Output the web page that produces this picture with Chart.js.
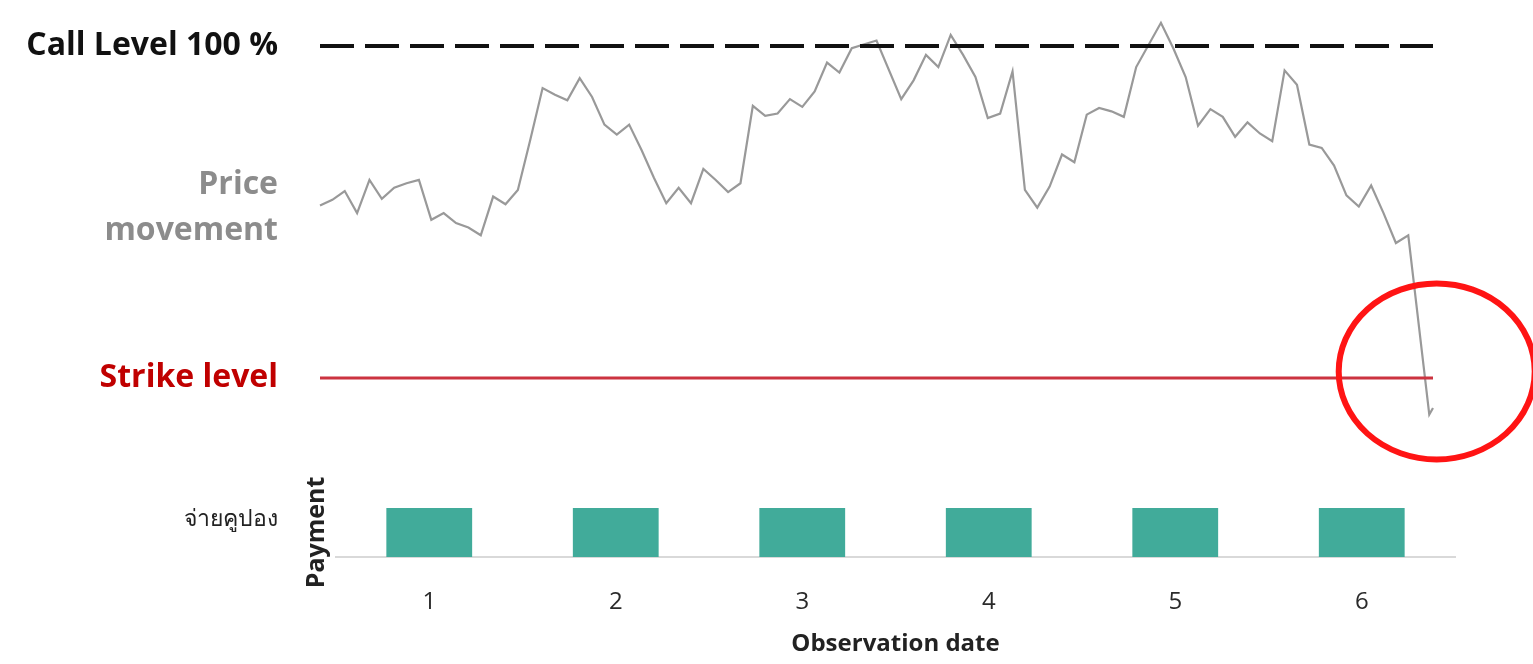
<!DOCTYPE html>
<html>
<head>
<meta charset="utf-8">
<script src="https://cdn.jsdelivr.net/npm/chart.js@4/dist/chart.umd.min.js"></script>
<style>
  body { margin: 0; background: #fff; }
  #top { position: absolute; left: 0; top: 0; width: 1533px; height: 470px; }
  #bottom { position: absolute; left: 0; top: 470px; width: 1533px; height: 194px; }
</style>
</head>
<body>
<div id="top"><canvas id="priceChart"></canvas></div>
<div id="bottom"><canvas id="couponChart"></canvas></div>
<script>
// price path (trading day, % of initial)
const priceDay = [0, 1, 2, 3, 4, 5, 6, 7, 8, 9, 10, 11, 12, 13, 14, 15, 16, 17, 18, 19,
  20, 21, 22, 23, 24, 25, 26, 27, 28, 29, 30, 31, 32, 33, 34, 35, 36, 37, 38, 39,
  40, 41, 42, 43, 45, 47, 48, 49, 50, 51, 52, 53, 54, 55, 56, 57, 58, 59, 60, 61,
  62, 63, 64, 65, 66, 68, 69, 70, 71, 72, 73, 74, 75, 76, 77, 78, 79, 80, 81, 82,
  83, 84, 85, 86, 87, 88, 89.7, 90];
const priceValue = [85.6, 86.1, 86.9, 84.9, 87.9, 86.2, 87.2, 87.6, 87.9, 84.3, 84.9, 84.0, 83.6, 82.9, 86.4, 85.7, 87.0, 91.5, 96.2, 95.6,
  95.1, 97.1, 95.4, 92.9, 92.0, 92.9, 90.6, 88.1, 85.8, 87.2, 85.8, 88.9, 87.9, 86.8, 87.6, 94.6, 93.7, 93.9, 95.2, 94.5,
  95.9, 98.5, 97.6, 99.8, 100.5, 95.2, 96.9, 99.2, 98.1, 101.0, 99.2, 97.2, 93.5, 93.9, 97.7, 87.0, 85.4, 87.3, 90.2, 89.5,
  93.8, 94.4, 94.1, 93.6, 98.1, 102.1, 99.8, 97.2, 92.8, 94.3, 93.6, 91.8, 93.1, 92.1, 91.4, 97.8, 96.5, 91.1, 90.8, 89.2,
  86.5, 85.5, 87.4, 84.9, 82.2, 82.9, 66.7, 67.3];

const callLevel = 100;
const strikeLevel = 70;
const levelValues = [70, 85.4, 100];
const levelLabels = ['Strike level', ['Price', 'movement'], 'Call Level 100 %'];
const levelColors = ['#c00000', '#8c8c8c', '#111111'];

const breachDay = 90.3;
const breachLevel = 70.6;

const observations = ['1', '2', '3', '4', '5', '6'];
const couponPaid = [1, 1, 1, 1, 1, 1];
const couponLabel = 'จ่ายคูปอง';
const couponLabelAt = 0.776;

const FONT = '"Open Sans", "Noto Sans", sans-serif';

const breachCircle = {
    id: 'breachCircle',
    afterDatasetsDraw(chart, args, opts) {
        const { ctx, scales: { x, y } } = chart;
        ctx.save();
        ctx.beginPath();
        ctx.ellipse(x.getPixelForValue(opts.day), y.getPixelForValue(opts.level), opts.rx, opts.ry, 0, 0, Math.PI * 2);
        ctx.lineWidth = opts.width;
        ctx.strokeStyle = opts.color;
        ctx.stroke();
        ctx.restore();
    }
};

const lastDay = priceDay[priceDay.length - 1];

new Chart(document.getElementById('priceChart'), {
    type: 'line',
    data: {
        datasets: [{
            data: [{ x: 0, y: callLevel }, { x: lastDay, y: callLevel }],
            borderColor: '#111',
            borderWidth: 4,
            borderDash: [34, 11],
            pointRadius: 0
        }, {
            data: [{ x: 0, y: strikeLevel }, { x: lastDay, y: strikeLevel }],
            borderColor: '#cc3340',
            borderWidth: 3,
            pointRadius: 0
        }, {
            data: priceDay.map((d, i) => ({ x: d, y: priceValue[i] })),
            borderColor: '#999999',
            borderWidth: 2.2,
            pointRadius: 0,
            tension: 0,
            clip: false
        }]
    },
    options: {
        responsive: true,
        maintainAspectRatio: false,
        animation: false,
        layout: { padding: { left: 0, right: 100, top: 0, bottom: 0 } },
        scales: {
            x: { type: 'linear', display: false, min: 0, max: lastDay },
            y: {
                min: 61.69,
                max: 104.16,
                grid: { display: false, drawTicks: false },
                border: { display: false },
                afterBuildTicks: (scale) => { scale.ticks = levelValues.map(v => ({ value: v })); },
                afterFit: (scale) => { scale.width = 320; scale.paddingTop = 0; scale.paddingBottom = 0; },
                ticks: {
                    padding: 42,
                    callback: (value, index) => levelLabels[index],
                    color: (ctx) => levelColors[ctx.index],
                    font: { family: FONT, size: 32, weight: 'bold', lineHeight: 1.45 }
                }
            }
        },
        plugins: {
            legend: { display: false },
            tooltip: { enabled: false },
            breachCircle: { day: breachDay, level: breachLevel, rx: 98, ry: 88, width: 6, color: '#ff1414' }
        }
    },
    plugins: [breachCircle]
});

new Chart(document.getElementById('couponChart'), {
    type: 'bar',
    data: {
        labels: observations,
        datasets: [{
            data: couponPaid,
            backgroundColor: '#41ab9a',
            barPercentage: 0.46,
            categoryPercentage: 1
        }]
    },
    options: {
        responsive: true,
        maintainAspectRatio: false,
        animation: false,
        layout: { padding: { left: 0, right: 78, top: 38, bottom: 0 } },
        scales: {
            x: {
                grid: { display: false, drawTicks: false },
                border: { display: true, color: '#d9d9d9', width: 2 },
                afterFit: (scale) => { scale.height = 107; scale.paddingLeft = 0; scale.paddingRight = 0; },
                ticks: { padding: 31, color: '#2a2a2a', font: { family: FONT, size: 24 } },
                title: {
                    display: true,
                    text: 'Observation date',
                    color: '#222',
                    padding: { top: 0, bottom: 5 },
                    font: { family: FONT, size: 24, weight: 'bold' }
                }
            },
            y: {
                min: 0,
                max: 1,
                weight: 0,
                grid: { display: false, drawTicks: false },
                border: { display: false },
                ticks: { display: false },
                afterFit: (scale) => { scale.width = 32; scale.paddingTop = 0; scale.paddingBottom = 0; },
                title: {
                    display: true,
                    text: 'Payment',
                    color: '#222',
                    padding: { top: 0, bottom: 0 },
                    font: { family: FONT, size: 25, weight: 'bold', lineHeight: 1.05 }
                }
            },
            y2: {
                position: 'left',
                min: 0,
                max: 1,
                weight: 1,
                grid: { display: false, drawTicks: false },
                border: { display: false },
                afterBuildTicks: (scale) => { scale.ticks = [{ value: couponLabelAt }]; },
                afterFit: (scale) => { scale.width = 304; scale.paddingTop = 0; scale.paddingBottom = 0; },
                ticks: {
                    padding: 26,
                    callback: () => couponLabel,
                    color: '#222',
                    font: { family: FONT, size: 23 }
                }
            }
        },
        plugins: {
            legend: { display: false },
            tooltip: { enabled: false }
        }
    }
});
</script>
</body>
</html>
